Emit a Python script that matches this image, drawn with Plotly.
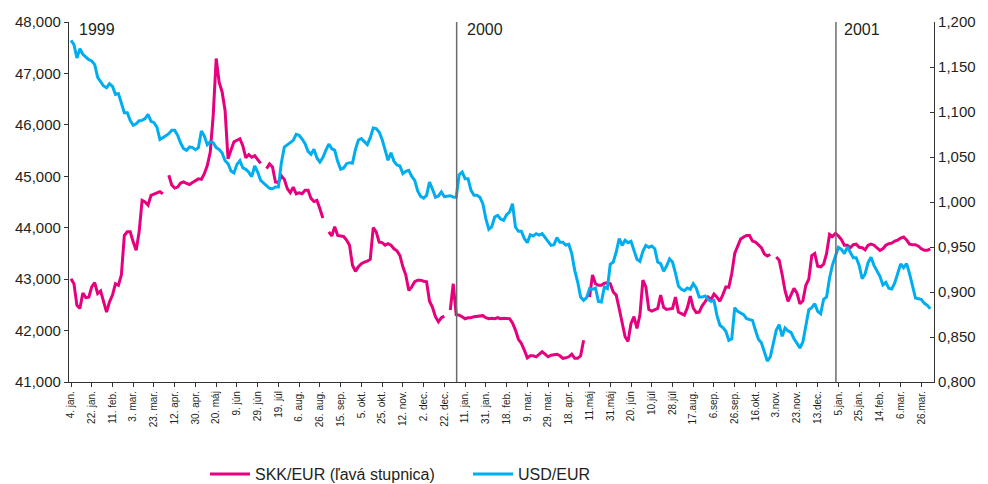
import plotly.graph_objects as go

# trading-day number (every 2nd trading day from 4 Jan 1999)
day = list(range(0, 581, 2))

skk_eur = [
    43.01, 42.91, 42.49, 42.43, 42.73, 42.64, 42.65, 42.85, 42.93, 42.72,
    42.77, 42.58, 42.36, 42.56, 42.69, 42.91, 42.88, 43.08, 43.85, 43.92,
    43.92, 43.72, 43.56, 43.92, 44.53, 44.50, 44.44, 44.63, 44.65, 44.68,
    44.70, 44.66, None, 45.02, 44.83, 44.77, 44.79, 44.87, 44.89, 44.86,
    44.84, 44.88, 44.92, 44.95, 44.94, 45.05, 45.21, 45.47, 46.19, 47.29,
    46.83, 46.64, 46.28, 45.34, 45.51, 45.67, 45.70, 45.73, 45.59, 45.36,
    45.42, 45.37, 45.40, 45.32, 45.25, None, 45.15, 45.24, 45.18, 44.89,
    44.88, 45.01, 44.94, 44.76, 44.68, 44.79, 44.66, 44.68, 44.66, 44.73,
    44.73, 44.57, 44.51, 44.53, 44.37, 44.19, None, 43.92, 43.84, 44.02,
    43.85, 43.84, 43.83, 43.76, 43.66, 43.27, 43.15, 43.24, 43.30, 43.33,
    43.35, 43.39, 44.00, 43.92, 43.72, 43.71, 43.66, 43.69, 43.66, 43.59,
    43.55, 43.46, 43.24, 43.08, 42.78, 42.85, 42.95, 42.98, 42.98, 42.96,
    42.95, 42.57, 42.45, 42.27, 42.17, 42.25, 42.28, None, 42.40, 42.91,
    42.31, 42.30, 42.27, 42.23, 42.25, 42.25, 42.27, 42.28, 42.28, 42.29,
    42.25, 42.23, 42.24, 42.23, 42.25, 42.23, 42.24, 42.23, 42.23, 42.15,
    42.01, 41.83, 41.75, 41.62, 41.47, 41.51, 41.51, 41.49, 41.55, 41.59,
    41.54, 41.49, 41.52, 41.53, 41.54, 41.51, 41.46, 41.47, 41.49, 41.54,
    41.46, 41.46, 41.51, 41.81, None, 42.65, 43.08, 42.91, 42.88, 42.88,
    42.92, 42.93, 42.91, 42.75, 42.69, 42.43, 42.18, 41.88, 41.79, 42.14,
    42.27, 42.04, 42.30, 42.98, 42.85, 42.41, 42.38, 42.41, 42.43, 42.69,
    42.45, 42.41, 42.42, 42.43, 42.65, 42.36, 42.33, 42.30, 42.44, 42.67,
    42.44, 42.35, 42.36, 42.48, 42.56, 42.65, 42.60, 42.71, 42.65, 42.57,
    42.70, 42.85, 42.84, 43.11, 43.50, 43.63, 43.78, 43.82, 43.85, 43.85,
    43.74, 43.72, 43.67, 43.61, 43.49, 43.45, 43.48, None, 43.43, 43.37,
    43.09, 42.77, 42.57, 42.70, 42.82, 42.73, 42.52, 42.58, 42.88, 43.00,
    43.46, 43.50, 43.25, 43.24, 43.29, 43.50, 43.87, 43.83, 43.89, 43.84,
    43.77, 43.66, 43.66, 43.61, 43.67, 43.68, 43.62, 43.61, 43.57, 43.66,
    43.68, 43.66, 43.60, 43.56, 43.59, 43.66, 43.69, 43.70, 43.74, 43.76,
    43.80, 43.82, 43.76, 43.68, 43.67, 43.67, 43.64, 43.59, 43.56, 43.56,
    43.59,
]

usd_eur = [
    1.1796, 1.1748, 1.1600, 1.1704, 1.1641, 1.1607, 1.1581, 1.1567, 1.1526, 1.1385,
    1.1333, 1.1289, 1.1270, 1.1315, 1.1285, 1.1196, 1.1204, 1.1093, 1.0993, 1.0993,
    1.0904, 1.0852, 1.0870, 1.0904, 1.0907, 1.0926, 1.0974, 1.0896, 1.0881, 1.0833,
    1.0696, 1.0715, 1.0737, 1.0759, 1.0796, 1.0796, 1.0741, 1.0655, 1.0593, 1.0574,
    1.0611, 1.0604, 1.0581, 1.0604, 1.0789, 1.0733, 1.0637, 1.0670, 1.0659, 1.0604,
    1.0585, 1.0544, 1.0459, 1.0426, 1.0344, 1.0322, 1.0418, 1.0459, 1.0378, 1.0363,
    1.0330, 1.0281, 1.0400, 1.0333, 1.0241, 1.0211, 1.0185, 1.0152, 1.0148, 1.0167,
    1.0167, 1.0437, 1.0611, 1.0637, 1.0655, 1.0685, 1.0752, 1.0741, 1.0700, 1.0648,
    1.0563, 1.0530, 1.0585, 1.0489, 1.0444, 1.0493, 1.0574, 1.0644, 1.0593, 1.0574,
    1.0452, 1.0363, 1.0378, 1.0426, 1.0437, 1.0433, 1.0585, 1.0689, 1.0704, 1.0674,
    1.0637, 1.0715, 1.0822, 1.0815, 1.0778, 1.0696, 1.0574, 1.0463, 1.0548, 1.0452,
    1.0411, 1.0400, 1.0315, 1.0341, 1.0352, 1.0285, 1.0241, 1.0122, 1.0063, 1.0044,
    1.0074, 1.0222, 1.0141, 1.0052, 1.0067, 1.0111, 1.0059, 1.0067, 1.0070, 1.0056,
    1.0052, 1.0304, 1.0333, 1.0259, 1.0259, 1.0130, 1.0074, 1.0074, 1.0052, 0.9981,
    0.9815, 0.9696, 0.9726, 0.9833, 0.9852, 0.9811, 0.9796, 0.9859, 0.9889, 0.9981,
    0.9722, 0.9674, 0.9674, 0.9593, 0.9548, 0.9637, 0.9622, 0.9648, 0.9633, 0.9648,
    0.9607, 0.9570, 0.9518, 0.9526, 0.9604, 0.9552, 0.9552, 0.9522, 0.9530, 0.9426,
    0.9241, 0.9111, 0.8944, 0.8907, 0.8937, 0.9037, 0.9030, 0.9044, 0.8896, 0.8889,
    0.9056, 0.9037, 0.9307, 0.9333, 0.9444, 0.9593, 0.9518, 0.9574, 0.9548, 0.9563,
    0.9463, 0.9363, 0.9341, 0.9452, 0.9518, 0.9496, 0.9511, 0.9481, 0.9333, 0.9315,
    0.9230, 0.9289, 0.9367, 0.9333, 0.9211, 0.9067, 0.9030, 0.9015, 0.9044, 0.9030,
    0.9093, 0.9044, 0.8944, 0.8944, 0.8956, 0.8919, 0.8896, 0.8907, 0.8741, 0.8630,
    0.8604, 0.8563, 0.8463, 0.8481, 0.8826, 0.8785, 0.8767, 0.8748, 0.8704, 0.8696,
    0.8685, 0.8574, 0.8474, 0.8437, 0.8333, 0.8233, 0.8278, 0.8426, 0.8574, 0.8637,
    0.8507, 0.8600, 0.8567, 0.8552, 0.8481, 0.8430, 0.8378, 0.8444, 0.8637, 0.8804,
    0.8826, 0.8870, 0.8785, 0.8759, 0.8919, 0.8944, 0.9156, 0.9300, 0.9400, 0.9496,
    0.9474, 0.9426, 0.9500, 0.9444, 0.9381, 0.9381, 0.9296, 0.9148, 0.9200, 0.9326,
    0.9385, 0.9296, 0.9233, 0.9174, 0.9078, 0.9107, 0.9041, 0.9033, 0.9100, 0.9215,
    0.9311, 0.9270, 0.9315, 0.9204, 0.9067, 0.8933, 0.8926, 0.8915, 0.8874, 0.8852,
    0.8815,
]

tick_day = list(range(0, 575, 14))
tick_text = [
    "4. jan.", "22. jan.", "11. feb.", "3. mar.", "23. mar.", "12. apr.", "30. apr.",
    "20. máj", "9. jún", "29. jún", "19. júl", "6. aug.", "26. aug.", "15. sep.",
    "5. okt.", "25. okt.", "12. nov.", "2. dec.", "22. dec.", "11. jan.", "31. jan.",
    "18. feb.", "9. mar.", "29. mar.", "18. apr.", "11.máj", "31.máj", "20. jún",
    "10.júl", "28.júl", "17.aug.", "6.sep.", "26.sep.", "16.okt.", "3.nov.",
    "23.nov.", "13.dec.", "5.jan.", "25.jan.", "14.feb.", "6.mar.", "26.mar.",
]

year_labels = ["1999", "2000", "2001"]
year_start_day = [-1.35, 260.3, 516.3]

PINK = "#E6007E"
BLUE = "#00AEEF"
TXT = "#231f20"
AX = "#333333"
FONT = "Liberation Sans, Arial, sans-serif"
X_RANGE = [-1.35, 582.5]
SKK_RANGE = [41, 48]

fig = go.Figure()
fig.add_trace(go.Scatter(
    x=day, y=skk_eur, mode="lines", name="SKK/EUR (ľavá stupnica)",
    line=dict(color=PINK, width=3), connectgaps=False, yaxis="y",
))
fig.add_trace(go.Scatter(
    x=day, y=usd_eur, mode="lines", name="USD/EUR",
    line=dict(color=BLUE, width=3), connectgaps=False, yaxis="y2",
))

shapes = []
for d in year_start_day[1:]:
    shapes.append(dict(type="line", xref="x", yref="paper", x0=d, x1=d, y0=0, y1=1,
                       line=dict(color="#6b6b6b", width=1.5)))

annotations = []
for lab, d, sh in zip(year_labels, year_start_day, [8, 8, 6]):
    annotations.append(dict(text=lab, x=d, y=0.978, xref="x", yref="paper",
                            xanchor="left", yanchor="middle", xshift=sh, showarrow=False,
                            font=dict(family=FONT, size=16, color=TXT)))

fig.update_layout(
    width=980, height=476,
    margin=dict(l=61, r=54, t=14, b=102, autoexpand=False),
    paper_bgcolor="white", plot_bgcolor="white",
    separators=", ",
    font=dict(family=FONT, size=15, color=TXT),
    showlegend=True,
    legend=dict(orientation="h", xref="container", yref="container",
                x=0.201, y=0.021, xanchor="left", yanchor="middle",
                font=dict(family=FONT, size=16, color=TXT), entrywidth=208,
                itemwidth=40, bgcolor="rgba(0,0,0,0)"),
    xaxis=dict(range=X_RANGE, tickvals=tick_day, ticktext=tick_text,
               tickangle=-90, showgrid=False, zeroline=False, showline=True,
               linecolor=AX, linewidth=1.2, ticks="outside", ticklen=4,
               tickcolor=AX, tickwidth=1.2, automargin=False,
               tickfont=dict(family="Liberation Sans Narrow, Liberation Sans, Arial", size=10, color=TXT)),
    # companion axis that draws the inner half of the crossing x tick marks
    xaxis2=dict(range=X_RANGE, tickvals=tick_day, overlaying="x", anchor="y", side="bottom",
                showticklabels=False, ticks="inside", ticklen=5, tickcolor=AX, tickwidth=1.2,
                showgrid=False, zeroline=False, showline=False, automargin=False),
    yaxis=dict(range=SKK_RANGE, dtick=1, tick0=41, tickformat=".3f", showgrid=False,
               zeroline=False, showline=True, linecolor=AX, linewidth=1.2,
               ticks="outside", ticklen=4, tickcolor=AX, tickwidth=1.2,
               automargin=False, tickfont=dict(family=FONT, size=15, color=TXT)),
    # companion axis for the inner half of the crossing left tick marks
    yaxis3=dict(range=SKK_RANGE, dtick=1, tick0=41, overlaying="y", side="left", anchor="x",
                showticklabels=False, ticks="inside", ticklen=4, tickcolor=AX, tickwidth=1.2,
                showgrid=False, zeroline=False, showline=False, automargin=False),
    yaxis2=dict(range=[0.8, 1.2], dtick=0.05, tick0=0.8, tickformat=".3f", overlaying="y",
                side="right", anchor="x", showgrid=False, zeroline=False, showline=True,
                linecolor=AX, linewidth=1.2, ticks="inside", ticklen=4,
                tickcolor=AX, tickwidth=1.2, automargin=False,
                tickfont=dict(family=FONT, size=15, color=TXT)),
    shapes=shapes, annotations=annotations,
)

fig.write_html("out.html")
